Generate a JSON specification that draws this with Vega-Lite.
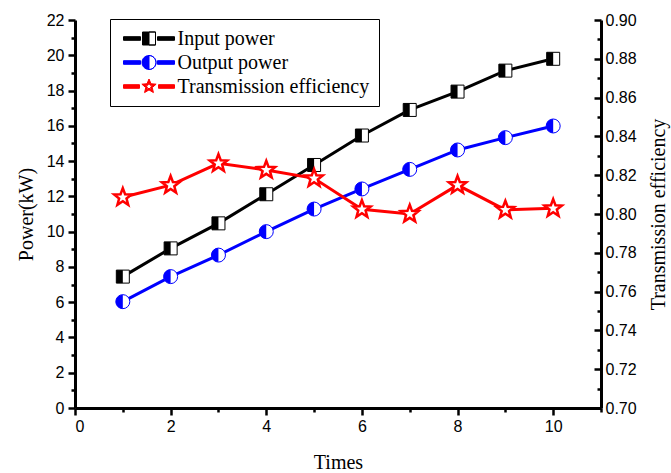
{
  "$schema": "https://vega.github.io/schema/vega-lite/v6.json",
  "width": 526,
  "height": 388,
  "autosize": "none",
  "padding": {"left": 75, "top": 20, "right": 70, "bottom": 65},
  "background": "white",
  "config": {
    "view": {"stroke": null},
    "axis": {
      "grid": false,
      "domainColor": "black",
      "domainWidth": 3,
      "tickColor": "black",
      "tickWidth": 2.5,
      "labelFont": "Liberation Sans",
      "labelFontSize": 16,
      "labelColor": "black",
      "titleFont": "Liberation Serif",
      "titleFontSize": 20,
      "titleFontWeight": "normal",
      "titleColor": "black"
    }
  },
  "data": {
    "values": [
      {"t": 1, "series": "Input power", "value": 7.45},
      {"t": 2, "series": "Input power", "value": 9.05},
      {"t": 3, "series": "Input power", "value": 10.47},
      {"t": 4, "series": "Input power", "value": 12.12},
      {"t": 5, "series": "Input power", "value": 13.78},
      {"t": 6, "series": "Input power", "value": 15.45},
      {"t": 7, "series": "Input power", "value": 16.9},
      {"t": 8, "series": "Input power", "value": 17.94},
      {"t": 9, "series": "Input power", "value": 19.13},
      {"t": 10, "series": "Input power", "value": 19.8},
      {"t": 1, "series": "Output power", "value": 6.03},
      {"t": 2, "series": "Output power", "value": 7.45},
      {"t": 3, "series": "Output power", "value": 8.67},
      {"t": 4, "series": "Output power", "value": 10.0},
      {"t": 5, "series": "Output power", "value": 11.28},
      {"t": 6, "series": "Output power", "value": 12.42},
      {"t": 7, "series": "Output power", "value": 13.53},
      {"t": 8, "series": "Output power", "value": 14.63},
      {"t": 9, "series": "Output power", "value": 15.33},
      {"t": 10, "series": "Output power", "value": 15.99},
      {"t": 1, "series": "Transmission efficiency", "value": 0.8086},
      {"t": 2, "series": "Transmission efficiency", "value": 0.8149},
      {"t": 3, "series": "Transmission efficiency", "value": 0.8261},
      {"t": 4, "series": "Transmission efficiency", "value": 0.8227},
      {"t": 5, "series": "Transmission efficiency", "value": 0.8184},
      {"t": 6, "series": "Transmission efficiency", "value": 0.8024},
      {"t": 7, "series": "Transmission efficiency", "value": 0.8},
      {"t": 8, "series": "Transmission efficiency", "value": 0.8149},
      {"t": 9, "series": "Transmission efficiency", "value": 0.8021},
      {"t": 10, "series": "Transmission efficiency", "value": 0.8029}
    ]
  },
  "encoding": {
    "x": {
      "field": "t",
      "type": "quantitative",
      "scale": {"domain": [0, 11], "nice": false, "zero": false},
      "axis": {
        "title": "Times",
        "values": [0, 1, 2, 3, 4, 5, 6, 7, 8, 9, 10, 11],
        "labelExpr": "datum.value % 2 === 0 && datum.value < 11 ? datum.label : ''",
        "tickSize": {"condition": {"test": "datum.value % 2 === 1", "value": 4}, "value": 7},
        "labelPadding": 3,
        "titlePadding": 18
      }
    }
  },
  "layer": [
    {
      "encoding": {
        "y": {
          "field": "value",
          "type": "quantitative",
          "scale": {"domain": [0, 22], "nice": false, "zero": false},
          "axis": {
            "title": "Power(kW)",
            "orient": "left",
            "values": [0,1,2,3,4,5,6,7,8,9,10,11,12,13,14,15,16,17,18,19,20,21,22],
            "labelExpr": "datum.value % 2 === 0 ? datum.label : ''",
            "tickSize": {"condition": {"test": "datum.value % 2 === 1", "value": 4}, "value": 7},
            "labelPadding": 4,
            "titlePadding": 10
          }
        }
      },
      "layer": [
        {
          "transform": [{"filter": "datum.series === 'Input power'"}],
          "mark": {"type": "line", "color": "black", "strokeWidth": 3}
        },
        {
          "transform": [{"filter": "datum.series === 'Input power'"}],
          "mark": {"type": "point", "shape": "square", "size": 169, "filled": true, "fill": "white", "stroke": "black", "strokeWidth": 1, "opacity": 1}
        },
        {
          "transform": [{"filter": "datum.series === 'Input power'"}],
          "mark": {"type": "point", "shape": "M-1,-1H0V1H-1Z", "size": 169, "filled": true, "fill": "black", "strokeWidth": 0, "opacity": 1}
        },
        {
          "transform": [{"filter": "datum.series === 'Output power'"}],
          "mark": {"type": "line", "color": "blue", "strokeWidth": 3}
        },
        {
          "transform": [{"filter": "datum.series === 'Output power'"}],
          "mark": {"type": "point", "shape": "circle", "size": 196, "filled": true, "fill": "white", "stroke": "blue", "strokeWidth": 1, "opacity": 1}
        },
        {
          "transform": [{"filter": "datum.series === 'Output power'"}],
          "mark": {"type": "point", "shape": "M0,-1A1,1,0,0,0,0,1Z", "size": 196, "filled": true, "fill": "blue", "strokeWidth": 0, "opacity": 1}
        },
        {
          "mark": {"type": "point", "filled": true, "strokeWidth": 1},
          "encoding": {
            "opacity": {"value": 0},
            "shape": {
              "field": "series",
              "type": "nominal",
              "scale": {
                "domain": ["Input power", "Output power", "Transmission efficiency"],
                "range": [
                  "M-2.55,-0.18H-0.85V0.18H-2.55Z M0.85,-0.18H2.55V0.18H0.85Z M-0.65,-0.65H0.65V0.65H-0.65Z M0,-0.65V0.65H0.65V-0.65Z",
                  "M-2.55,-0.18H-0.85V0.18H-2.55Z M0.85,-0.18H2.55V0.18H0.85Z M0,-0.7A0.7,0.7,0,1,1,0,0.7A0.7,0.7,0,1,1,0,-0.7Z M0,-0.7L0,0.7A0.7,0.7,0,0,0,0,-0.7Z",
                  "M-2.55,-0.18H-0.95V0.18H-2.55Z M0.95,-0.18H2.55V0.18H0.95Z M0,-0.75L0.2,-0.275L0.713,-0.232L0.323,0.105L0.441,0.607L0,0.34L-0.441,0.607L-0.323,0.105L-0.713,-0.232L-0.2,-0.275Z M0,-0.375L-0.1,-0.1375L-0.357,-0.116L-0.162,0.053L-0.221,0.304L0,0.17L0.221,0.304L0.162,0.053L0.357,-0.116L0.1,-0.1375Z"
                ]
              },
              "legend": {
                "title": null,
                "orient": "none",
                "legendX": 35,
                "legendY": -1,
                "padding": 9,
                "strokeColor": "black",
                "fillColor": "white",
                "symbolSize": 400,
                "symbolStrokeWidth": 1,
                "symbolOpacity": 1,
                "symbolOffset": 19.5,
                "labelOffset": 18,
                "labelFont": "Liberation Serif",
                "labelFontSize": 20,
                "labelColor": "black",
                "labelLimit": 400,
                "rowPadding": 3
              }
            },
            "color": {
              "field": "series",
              "type": "nominal",
              "scale": {"domain": ["Input power", "Output power", "Transmission efficiency"], "range": ["black", "blue", "red"]}
            },
            "stroke": {
              "field": "series",
              "type": "nominal",
              "scale": {"domain": ["Input power", "Output power", "Transmission efficiency"], "range": ["black", "blue", "red"]}
            }
          }
        }
      ]
    },
    {
      "transform": [{"filter": "datum.series === 'Transmission efficiency'"}],
      "encoding": {
        "y": {
          "field": "value",
          "type": "quantitative",
          "scale": {"domain": [0.7, 0.9], "nice": false, "zero": false},
          "axis": {
            "title": "Transmission efficiency",
            "orient": "right",
            "titleAngle": 270,
            "values": [0.7,0.71,0.72,0.73,0.74,0.75,0.76,0.77,0.78,0.79,0.8,0.81,0.82,0.83,0.84,0.85,0.86,0.87,0.88,0.89,0.9],
            "labelExpr": "round(datum.value*100) % 2 === 0 ? format(datum.value, '.2f') : ''",
            "tickSize": {"condition": {"test": "round(datum.value*100) % 2 === 1", "value": -4}, "value": -7},
            "labelPadding": 11,
            "titlePadding": 32
          }
        }
      },
      "layer": [
        {"mark": {"type": "line", "color": "red", "strokeWidth": 3}},
        {
          "mark": {
            "type": "point",
            "shape": "M0,-1L0.247,-0.34L0.951,-0.309L0.4,0.13L0.588,0.809L0,0.42L-0.588,0.809L-0.4,0.13L-0.951,-0.309L-0.247,-0.34Z",
            "size": 340,
            "filled": true,
            "fill": "white",
            "stroke": "red",
            "strokeWidth": 2.5,
            "opacity": 1
          }
        }
      ]
    }
  ],
  "resolve": {"scale": {"y": "independent"}}
}
